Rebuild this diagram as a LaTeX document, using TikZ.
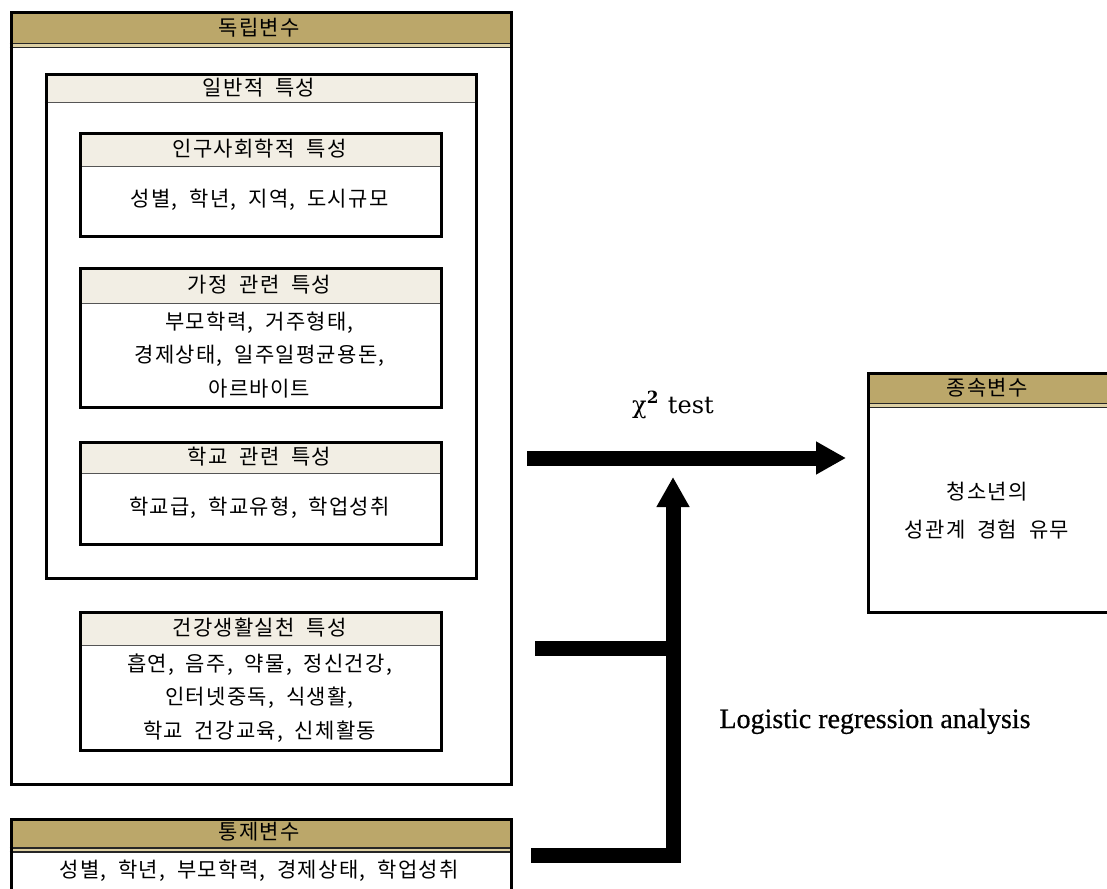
\documentclass[tikz,border=0pt]{standalone}
\usepackage{fontspec}
\setmainfont{Liberation Serif}
\newfontfamily\kr[WordSpace=2.0,LetterSpace=6]{Noto Sans CJK KR}
\newfontfamily\chifont{DejaVu Serif}
\newfontfamily\logifont[FakeBold=0.6]{Liberation Serif}
\usetikzlibrary{arrows.meta}
\definecolor{tanc}{HTML}{BBA76A}
\definecolor{tanlt}{HTML}{DCCFA3}
\definecolor{creamc}{HTML}{F2EEE4}
\definecolor{sepc}{HTML}{555555}
\tikzset{
  frame/.style={draw=black, line width=3pt, fill=none},
  krtext/.style={font=\kr\fontsize{21}{33.5}\selectfont, align=center, inner sep=0pt},
  sepline/.style={draw=sepc, line width=1pt},
  dline/.style={draw=black!85, line width=1.3pt},
  fatarrow/.style={line width=15pt, draw=black, -{Triangle[length=30pt,width=31pt]}},
  fatline/.style={line width=15pt, draw=black}
}
\begin{document}
\begin{tikzpicture}[x=1pt,y=-1pt]
\useasboundingbox (0,0) rectangle (1107,888);
\clip (0,0) rectangle (1107,888);

% ---------- independent variables (outer) ----------
\fill[tanc] (9.5,11.5) rectangle (509.5,43.5);
\fill[tanlt] (9.5,43.5) rectangle (509.5,47.5);
\draw[dline] (9.5,43.5) -- (509.5,43.5);
\draw[dline] (9.5,47.5) -- (509.5,47.5);
\node[frame, anchor=north west, minimum width=500pt, minimum height=771pt] (indep) at (9.5,11.5) {};
\node[krtext] (indepT) at (259,28) {독립변수};

% ---------- general characteristics ----------
\fill[creamc] (44.5,73.5) rectangle (474.5,103);
\draw[sepline] (44.5,103) -- (474.5,103);
\node[frame, anchor=north west, minimum width=430pt, minimum height=503pt] (gen) at (44.5,73.5) {};
\node[krtext] (genT) at (259,88) {일반적 특성};

% demographic
\fill[creamc] (79,132) rectangle (440,166);
\draw[sepline] (79,166) -- (440,166);
\node[frame, anchor=north west, minimum width=361pt, minimum height=103pt] (demo) at (79,132) {};
\node[krtext] (demoT) at (259.5,149) {인구사회학적 특성};
\node[krtext] (demoB) at (259.5,200) {성별, 학년, 지역, 도시규모};

% family
\fill[creamc] (79,267) rectangle (440,303);
\draw[sepline] (79,303) -- (440,303);
\node[frame, anchor=north west, minimum width=361pt, minimum height=139pt] (fam) at (79,267) {};
\node[krtext] (famT) at (259.5,285) {가정 관련 특성};
\node[krtext] (famB) at (259.5,355) {부모학력, 거주형태,\\경제상태, 일주일평균용돈,\\아르바이트};

% school
\fill[creamc] (79,441) rectangle (440,473);
\draw[sepline] (79,473) -- (440,473);
\node[frame, anchor=north west, minimum width=361pt, minimum height=102pt] (sch) at (79,441) {};
\node[krtext] (schT) at (259.5,457) {학교 관련 특성};
\node[krtext] (schB) at (259.5,508) {학교급, 학교유형, 학업성취};

% health
\fill[creamc] (79,611) rectangle (440,645);
\draw[sepline] (79,645) -- (440,645);
\node[frame, anchor=north west, minimum width=361pt, minimum height=138pt] (hea) at (79,611) {};
\node[krtext] (heaT) at (259.5,628) {건강생활실천 특성};
\node[krtext] (heaB) at (259.5,698) {흡연, 음주, 약물, 정신건강,\\인터넷중독, 식생활,\\학교 건강교육, 신체활동};

% ---------- control variables ----------
\fill[tanc] (9.5,817.5) rectangle (509.5,848);
\fill[tanlt] (9.5,848) rectangle (509.5,852);
\draw[dline] (9.5,848) -- (509.5,848);
\draw[dline] (9.5,852) -- (509.5,852);
\node[frame, anchor=north west, minimum width=500pt, minimum height=90pt] (ctrl) at (9.5,817.5) {};
\node[krtext] (ctrlT) at (259,832) {통제변수};
\node[krtext] (ctrlB) at (259,871) {성별, 학년, 부모학력, 경제상태, 학업성취};

% ---------- dependent variable ----------
\fill[tanc] (867,371.5) rectangle (1115,403.5);
\fill[tanlt] (867,403.5) rectangle (1115,407.5);
\draw[dline] (867,403.5) -- (1115,403.5);
\draw[dline] (867,407.5) -- (1115,407.5);
\node[frame, anchor=north west, minimum width=248pt, minimum height=239.5pt] (dep) at (867,371.5) {};
\node[krtext] (depT) at (987,388) {종속변수};
\node[krtext, font=\kr\fontsize{21}{38}\selectfont] (depB) at (987,511) {청소년의\\성관계 경험 유무};

% ---------- connectors ----------
\coordinate (a1) at (527,458);
\coordinate (a2) at (846,458);
\draw[fatarrow] (a1) -- (a2);

\coordinate (c1) at (531,855);
\coordinate (c2) at (673,855);
\coordinate (c3) at (673,477);
\draw[fatarrow, line join=miter] (c1) -- (c2) -- (c3);

\coordinate (h1) at (535,648);
\coordinate (h2) at (666,648);
\draw[fatline] (h1) -- (h2);

% ---------- labels ----------
\node[font=\chifont\fontsize{24}{24}\selectfont, inner sep=0pt, anchor=base] (chi) at (673,413) {χ\textsuperscript{\bfseries 2}\hspace{9pt}test};
\node[font=\logifont\fontsize{28}{28}\selectfont, inner sep=0pt, anchor=base] (logi) at (875,728) {Logistic regression analysis};
\end{tikzpicture}
\end{document}
